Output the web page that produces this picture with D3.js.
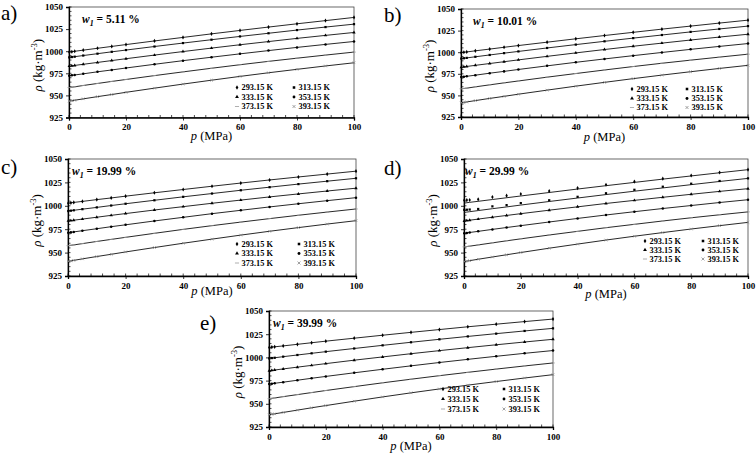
<!DOCTYPE html>
<html>
<head>
<meta charset="utf-8">
<script src="https://cdn.jsdelivr.net/npm/d3@7"></script>
<style>
  html, body { margin: 0; padding: 0; background: #fff; }
  svg { display: block; }
  text { font-family: "Liberation Serif", "Times New Roman", serif; fill: #000; }
</style>
</head>
<body>
<svg id="chart" width="756" height="455"></svg>
<script>
// ---------------- DATA ----------------
const pressures = [0.1, 1, 2, 5, 10, 15, 20, 30, 40, 50, 60, 70, 80, 90, 100];
const temperatures = ["293.15 K", "313.15 K", "333.15 K", "353.15 K", "373.15 K", "393.15 K"];
const panelLabels = ["a)", "b)", "c)", "d)", "e)"];
const massFractions = ["5.11", "10.01", "19.99", "29.99", "39.99"];
const xTicks = [0, 20, 40, 60, 80, 100];
const yTicks = [925, 950, 975, 1000, 1025, 1050];

// density (kg·m-3) per temperature, at each pressure
const densityA = [
  [999.0, 999.4, 999.9, 1001.2, 1003.3, 1005.4, 1007.5, 1011.6, 1015.6, 1019.6, 1023.5, 1027.3, 1031.0, 1034.6, 1038.2],
  [993.0, 993.4, 993.8, 995.1, 997.2, 999.3, 1001.3, 1005.3, 1009.2, 1013.0, 1016.7, 1020.3, 1023.9, 1027.3, 1030.6],
  [983.1, 983.4, 983.9, 985.2, 987.3, 989.4, 991.5, 995.6, 999.6, 1003.5, 1007.3, 1010.9, 1014.5, 1017.9, 1021.2],
  [972.3, 972.7, 973.1, 974.4, 976.7, 978.8, 981.0, 985.2, 989.3, 993.2, 997.0, 1000.7, 1004.3, 1007.7, 1011.0],
  [958.9, 959.3, 959.7, 961.2, 963.5, 965.8, 968.0, 972.4, 976.6, 980.7, 984.7, 988.5, 992.1, 995.6, 999.0],
  [943.6, 944.0, 944.5, 946.1, 948.6, 951.0, 953.5, 958.2, 962.8, 967.2, 971.5, 975.6, 979.5, 983.3, 986.9]
];
const densityB = [
  [999.5, 999.9, 1000.3, 1001.6, 1003.6, 1005.7, 1007.7, 1011.6, 1015.5, 1019.3, 1023.0, 1026.7, 1030.2, 1033.7, 1037.1],
  [992.6, 993.0, 993.4, 994.7, 996.8, 998.9, 1000.9, 1004.9, 1008.8, 1012.6, 1016.3, 1019.9, 1023.5, 1026.9, 1030.2],
  [982.7, 983.0, 983.5, 984.8, 986.9, 989.0, 991.1, 995.2, 999.2, 1003.1, 1006.9, 1010.5, 1014.1, 1017.5, 1020.8],
  [971.3, 971.7, 972.1, 973.4, 975.7, 977.8, 980.0, 984.2, 988.3, 992.2, 996.0, 999.7, 1003.3, 1006.7, 1010.0],
  [957.6, 958.0, 958.4, 959.9, 962.2, 964.5, 966.7, 971.1, 975.3, 979.4, 983.4, 987.2, 990.8, 994.3, 997.7],
  [941.5, 941.9, 942.4, 944.0, 946.5, 948.9, 951.4, 956.1, 960.7, 965.1, 969.4, 973.5, 977.4, 981.2, 984.8]
];
const densityC = [
  [1002.8, 1003.2, 1003.6, 1004.7, 1006.6, 1008.4, 1010.3, 1013.9, 1017.4, 1020.9, 1024.3, 1027.6, 1030.8, 1033.9, 1037.0],
  [994.4, 994.8, 995.2, 996.4, 998.3, 1000.3, 1002.2, 1005.9, 1009.6, 1013.1, 1016.6, 1019.9, 1023.2, 1026.3, 1029.4],
  [983.9, 984.2, 984.6, 985.8, 987.8, 989.8, 991.7, 995.5, 999.1, 1002.7, 1006.1, 1009.5, 1012.7, 1015.8, 1018.8],
  [971.3, 971.6, 972.1, 973.4, 975.5, 977.7, 979.7, 983.8, 987.7, 991.6, 995.2, 998.8, 1002.2, 1005.5, 1008.7],
  [957.4, 957.8, 958.2, 959.6, 961.9, 964.1, 966.3, 970.6, 974.8, 978.8, 982.6, 986.3, 989.9, 993.3, 996.6],
  [940.8, 941.2, 941.7, 943.3, 945.8, 948.2, 950.7, 955.4, 960.0, 964.4, 968.7, 972.8, 976.7, 980.5, 984.1]
];
const densityD = [
  [1006.0, 1006.1, 1006.2, 1006.9, 1009.3, 1010.8, 1012.6, 1015.7, 1018.9, 1022.5, 1025.9, 1029.0, 1032.4, 1035.6, 1038.6],
  [995.7, 995.8, 996.0, 996.6, 999.4, 1000.7, 1002.9, 1005.9, 1009.6, 1013.4, 1017.1, 1020.4, 1023.6, 1026.5, 1029.3],
  [983.8, 984.2, 984.6, 985.8, 987.8, 989.7, 991.6, 995.3, 998.9, 1002.5, 1005.8, 1009.1, 1012.3, 1015.4, 1018.3],
  [970.7, 971.0, 971.5, 972.7, 974.8, 976.8, 978.8, 982.7, 986.5, 990.2, 993.7, 997.1, 1000.3, 1003.5, 1006.5],
  [956.1, 956.5, 956.9, 958.2, 960.4, 962.6, 964.7, 968.8, 972.7, 976.6, 980.2, 983.8, 987.2, 990.4, 993.5],
  [940.5, 940.9, 941.4, 942.9, 945.3, 947.7, 950.1, 954.7, 959.1, 963.4, 967.5, 971.4, 975.2, 978.8, 982.3]
];
// correlated (fitted) curves of panel d for the two series whose points deviate at low pressure
const fitD293 = [1002.9, 1003.3, 1003.7, 1004.8, 1006.7, 1008.6, 1010.5, 1014.2, 1017.9, 1021.5, 1025.0, 1028.5, 1031.9, 1035.3, 1038.6];
const fitD313 = [992.9, 993.3, 993.7, 994.9, 996.9, 998.8, 1000.8, 1004.6, 1008.3, 1012.0, 1015.6, 1019.1, 1022.6, 1026.0, 1029.3];
const densityE = [
  [1010.7, 1011.1, 1011.4, 1012.4, 1014.1, 1015.8, 1017.5, 1020.7, 1023.9, 1027.0, 1030.0, 1033.0, 1035.8, 1038.6, 1041.3],
  [998.9, 999.3, 999.6, 1000.8, 1002.6, 1004.4, 1006.2, 1009.6, 1013.0, 1016.3, 1019.5, 1022.6, 1025.6, 1028.5, 1031.3],
  [985.6, 986.0, 986.4, 987.6, 989.5, 991.4, 993.3, 997.0, 1000.5, 1004.0, 1007.3, 1010.5, 1013.6, 1016.6, 1019.5],
  [971.3, 971.6, 972.1, 973.3, 975.4, 977.5, 979.5, 983.4, 987.2, 990.9, 994.5, 997.9, 1001.2, 1004.4, 1007.4],
  [955.5, 955.9, 956.3, 957.7, 959.9, 962.1, 964.3, 968.5, 972.6, 976.5, 980.3, 983.9, 987.4, 990.8, 994.0],
  [938.3, 938.7, 939.2, 940.7, 943.2, 945.7, 948.1, 952.8, 957.4, 961.8, 966.0, 970.1, 974.0, 977.8, 981.4]
];

const panelData = [densityA, densityB, densityC, densityD, densityE];
const panelFits = [null, null, null, [fitD293, fitD313], null];

// ---------------- LAYOUT ----------------
const layout = [
  { l: 69,  r: 354, t: 7,   b: 117.5, lab: [1, 19.5],  ti: [13, 16], leg: { c1: 168, c2: 225, rows: [-30, -20.5, -11] }, xl: 22.5 },
  { l: 461, r: 748, t: 9,   b: 117,   lab: [384, 22],  ti: [12, 16], leg: { c1: 171, c2: 226, rows: [-28, -18.5, -9.5] }, xl: 24 },
  { l: 68,  r: 356, t: 159, b: 276,   lab: [1, 174],   ti: [4, 16],  leg: { c1: 169, c2: 231, rows: [-32, -22.5, -13] }, xl: 18.5 },
  { l: 464, r: 748, t: 159, b: 276,   lab: [384, 175], ti: [1, 16],  leg: { c1: 181, c2: 239, rows: [-35, -26, -17] }, xl: 22 },
  { l: 269, r: 553, t: 311, b: 427,   lab: [200, 330], ti: [4, 16],  leg: { c1: 174, c2: 235, rows: [-38, -28, -18] }, xl: 23 }
];

// marker shapes for each temperature
const dash = { draw(ctx, size) { const w = Math.sqrt(size) * 0.8; ctx.moveTo(-w, 0); ctx.lineTo(w, 0); } };
const cross = { draw(ctx, size) { const w = Math.sqrt(size) * 0.45; ctx.moveTo(-w, -w); ctx.lineTo(w, w); ctx.moveTo(-w, w); ctx.lineTo(w, -w); } };
const markers = [
  { type: d3.symbolDiamond, size: 5, fill: "#000", stroke: null },
  { type: d3.symbolSquare, size: 5, fill: "#000", stroke: null },
  { type: d3.symbolTriangle, size: 5, fill: "#000", stroke: null },
  { type: d3.symbolCircle, size: 5, fill: "#000", stroke: null },
  { type: dash, size: 5, fill: "none", stroke: "#9a9a9a" },
  { type: cross, size: 8, fill: "none", stroke: "#888" }
];

const svg = d3.select("#chart");

panelData.forEach((series, pi) => {
  const L = layout[pi];
  const x = d3.scaleLinear().domain([0, 100]).range([L.l, L.r]);
  const y = d3.scaleLinear().domain([925, 1050]).range([L.b, L.t]);
  const g = svg.append("g");

  // frame
  g.append("rect").attr("x", L.l).attr("y", L.t).attr("width", L.r - L.l).attr("height", L.b - L.t)
    .attr("fill", "none").attr("stroke", "#444").attr("stroke-width", 0.8);

  // minor ticks
  const xMinor = d3.range(0, 100.01, 4);
  const yMinor = d3.range(925, 1050.01, 5);
  g.append("g").selectAll("line").data(xMinor).join("line")
    .attr("x1", d => x(d)).attr("x2", d => x(d)).attr("y1", L.b).attr("y2", L.b - 2.5)
    .attr("stroke", "#000").attr("stroke-width", 0.7);
  g.append("g").selectAll("line").data(yMinor).join("line")
    .attr("x1", L.l).attr("x2", L.l + 2.5).attr("y1", d => y(d)).attr("y2", d => y(d))
    .attr("stroke", "#000").attr("stroke-width", 0.7);

  // axes
  const xa = g.append("g").attr("transform", `translate(0,${L.b})`)
    .call(d3.axisBottom(x).tickValues(xTicks).tickSize(3).tickPadding(3).tickFormat(d3.format("d")));
  const ya = g.append("g").attr("transform", `translate(${L.l},0)`)
    .call(d3.axisLeft(y).tickValues(yTicks).tickSize(3).tickPadding(3).tickFormat(d3.format("d")));
  [xa, ya].forEach(a => {
    a.select(".domain").attr("stroke", "#000").attr("stroke-width", 1.3);
    a.selectAll(".tick line").attr("stroke", "#000").attr("stroke-width", 0.8);
    a.selectAll(".tick text").style("font-family", '"Liberation Serif", serif')
      .style("font-weight", "bold").style("font-size", "9px").attr("fill", "#000");
  });
  xa.selectAll(".tick text").attr("dy", "0.75em");

  // lines
  const line = d3.line().x((d, i) => x(pressures[i])).y(d => y(d)).curve(d3.curveMonotoneX);
  series.forEach((vals, si) => {
    let lineVals = vals;
    if (panelFits[pi] && si < panelFits[pi].length) lineVals = panelFits[pi][si];
    g.append("path").datum(lineVals).attr("d", line)
      .attr("fill", "none").attr("stroke", "#111").attr("stroke-width", 0.9);
  });

  // markers
  series.forEach((vals, si) => {
    const m = markers[si];
    g.append("g").selectAll("path").data(vals).join("path")
      .attr("transform", (d, i) => `translate(${x(pressures[i])},${y(d)})`)
      .attr("d", d3.symbol().type(m.type).size(m.size))
      .attr("fill", m.fill).attr("stroke", m.stroke).attr("stroke-width", m.stroke ? 0.8 : null);
  });

  // legend
  temperatures.forEach((tlabel, si) => {
    const col = si % 2, row = Math.floor(si / 2);
    const mx = L.l + (col === 0 ? L.leg.c1 : L.leg.c2);
    const my = L.b + L.leg.rows[row];
    const m = markers[si];
    g.append("path").attr("transform", `translate(${mx},${my})`)
      .attr("d", d3.symbol().type(m.type).size(m.size * 1.3))
      .attr("fill", m.fill).attr("stroke", m.stroke).attr("stroke-width", m.stroke ? 0.8 : null);
    g.append("text").attr("x", mx + 4.5).attr("y", my).attr("dy", "0.35em")
      .style("font-weight", "bold").style("font-size", "8.3px").text(tlabel);
  });

  // title w1 = ...
  const title = g.append("text").attr("x", L.l + L.ti[0]).attr("y", L.t + L.ti[1])
    .style("font-weight", "bold").style("font-size", "11.5px");
  title.append("tspan").style("font-style", "italic").text("w");
  title.append("tspan").style("font-style", "italic").style("font-size", "8px").attr("dy", 2.5).text("1");
  title.append("tspan").attr("dy", -2.5).text(" = " + massFractions[pi] + " %");

  // panel label
  g.append("text").attr("x", L.lab[0]).attr("y", L.lab[1]).style("font-size", "21px").text(panelLabels[pi]);

  // axis titles
  const yl = g.append("text")
    .attr("transform", `translate(${L.l - 27},${(L.t + L.b) / 2 + 3}) rotate(-90)`)
    .attr("text-anchor", "middle").style("font-size", "13px");
  yl.append("tspan").style("font-style", "italic").text("ρ");
  yl.append("tspan").text(" (kg·m");
  yl.append("tspan").style("font-size", "8.5px").attr("dy", -5).text("-3");
  yl.append("tspan").attr("dy", 5).text(")");

  const xl = g.append("text").attr("x", (L.l + L.r) / 2).attr("y", L.b + L.xl)
    .attr("text-anchor", "middle").style("font-size", "12.5px");
  xl.append("tspan").style("font-style", "italic").text("p");
  xl.append("tspan").text(" (MPa)");
});
</script>
</body>
</html>
